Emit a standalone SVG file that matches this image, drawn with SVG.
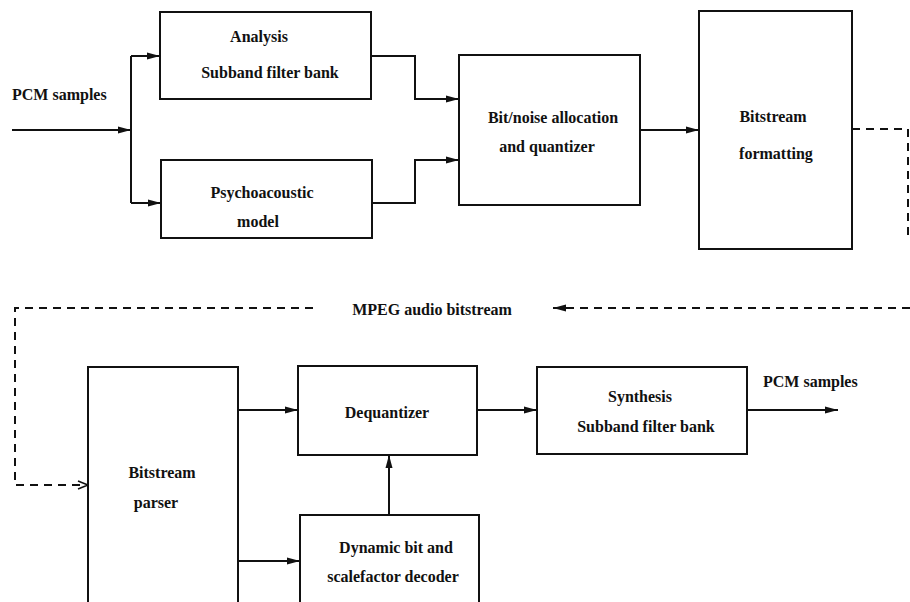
<svg xmlns="http://www.w3.org/2000/svg" width="910" height="602" viewBox="0 0 910 602">
<style>
.box{fill:#fff;stroke:#111;stroke-width:2}
.ln{fill:none;stroke:#111;stroke-width:2}
.dash{fill:none;stroke:#111;stroke-width:2;stroke-dasharray:8,6}
text{font-family:"Liberation Serif","Times New Roman",serif;font-weight:bold;font-size:16px;fill:#111}
.c{text-anchor:middle}
</style>
<defs>
<marker id="ah" markerUnits="userSpaceOnUse" markerWidth="14" markerHeight="10" refX="13" refY="5" orient="auto">
<path d="M0,1.5 L13,5 L0,8.5 Z" fill="#111"/>
</marker>
<marker id="oh" markerUnits="userSpaceOnUse" markerWidth="14" markerHeight="12" refX="12" refY="6" orient="auto">
<path d="M2,2 L12,6 L2,10" fill="none" stroke="#111" stroke-width="1.6"/>
</marker>
</defs>
<rect width="910" height="602" fill="#fff"/>
<g id="connectors">
<path class="ln" d="M12,130 H131" marker-end="url(#ah)"/>
<path class="ln" d="M131,56 V203"/>
<path class="ln" d="M131,56 H160" marker-end="url(#ah)"/>
<path class="ln" d="M131,203 H161" marker-end="url(#ah)"/>
<path class="ln" d="M371,56 H415 V99 H459" marker-end="url(#ah)"/>
<path class="ln" d="M372,203 H415 V160 H459" marker-end="url(#ah)"/>
<path class="ln" d="M640,130 H699" marker-end="url(#ah)"/>
<path class="dash" d="M852,129 H908 V236"/>
<path class="dash" d="M910,308 H553" marker-end="url(#ah)"/>
<path class="dash" d="M313,308 H15 V485 H88" marker-end="url(#oh)"/>
<path class="ln" d="M238,410 H298" marker-end="url(#ah)"/>
<path class="ln" d="M238,561 H300" marker-end="url(#ah)"/>
<path class="ln" d="M389,515 V455" marker-end="url(#ah)"/>
<path class="ln" d="M477,410 H537" marker-end="url(#ah)"/>
<path class="ln" d="M747,410 H838" marker-end="url(#ah)"/>
</g>
<g id="label-pcm-in"><text x="12" y="100">PCM samples</text></g>
<g id="analysis">
<rect class="box" x="160" y="12" width="211" height="87"/>
<text class="c" x="259" y="42">Analysis</text>
<text class="c" x="270" y="78">Subband filter bank</text>
</g>
<g id="psycho">
<rect class="box" x="161" y="160" width="211" height="78"/>
<text class="c" x="262" y="198">Psychoacoustic</text>
<text class="c" x="258" y="227">model</text>
</g>
<g id="bitnoise">
<rect class="box" x="459" y="55" width="181" height="150"/>
<text class="c" x="553" y="123">Bit/noise allocation</text>
<text class="c" x="547" y="152">and quantizer</text>
</g>
<g id="formatting">
<rect class="box" x="699" y="11" width="153" height="238"/>
<text class="c" x="773" y="122">Bitstream</text>
<text class="c" x="776" y="159">formatting</text>
</g>
<g id="label-mpeg"><text class="c" x="432" y="315">MPEG audio bitstream</text></g>
<g id="parser">
<path class="box" d="M88,604 V367 H238 V604"/>
<text class="c" x="162" y="478">Bitstream</text>
<text class="c" x="156" y="508">parser</text>
</g>
<g id="dequantizer">
<rect class="box" x="298" y="366" width="179" height="89"/>
<text class="c" x="387" y="418">Dequantizer</text>
</g>
<g id="decoder">
<path class="box" d="M300,604 V515 H479 V604"/>
<text class="c" x="396" y="553">Dynamic bit and</text>
<text class="c" x="393" y="582">scalefactor decoder</text>
</g>
<g id="synthesis">
<rect class="box" x="537" y="367" width="210" height="87"/>
<text class="c" x="640" y="402">Synthesis</text>
<text class="c" x="646" y="432">Subband filter bank</text>
</g>
<g id="label-pcm-out"><text x="763" y="387">PCM samples</text></g>
</svg>
